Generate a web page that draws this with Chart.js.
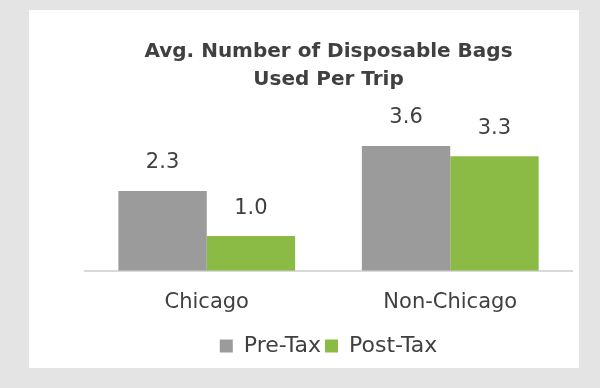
<!DOCTYPE html>
<html>
<head>
<meta charset="utf-8">
<script src="https://cdn.jsdelivr.net/npm/chart.js@4"></script>
<style>
  html, body { margin: 0; padding: 0; background: #e4e4e4; }
  body { width: 600px; height: 388px; position: relative; overflow: hidden; }
  #panel { position: absolute; left: 29px; top: 10px; width: 550px; height: 358px; background: #fff; }
</style>
</head>
<body>
<div id="panel"><canvas id="chart" width="550" height="358"></canvas></div>
<script>
// --- Data ---
const categories = ['Chicago', 'Non-Chicago'];
const preTax = [2.3, 3.6];
const postTax = [1.0, 3.3];
const seriesNames = ['Pre-Tax', 'Post-Tax'];

const textColor = '#404040';
const fontFamily = '"DejaVu Sans", sans-serif';

// value labels above each bar
const valueLabels = {
    id: 'valueLabels',
    afterDatasetsDraw(chart) {
        const ctx = chart.ctx;
        ctx.save();
        ctx.font = '21px ' + fontFamily;
        ctx.fillStyle = textColor;
        ctx.textAlign = 'center';
        ctx.textBaseline = 'middle';
        chart.data.datasets.forEach((ds, i) => {
            chart.getDatasetMeta(i).data.forEach((bar, j) => {
                ctx.fillText(ds.data[j].toFixed(1), bar.x, bar.y - 28);
            });
        });
        ctx.restore();
    }
};

new Chart(document.getElementById('chart'), {
    type: 'bar',
    data: {
        labels: categories,
        datasets: [
            { label: seriesNames[0], data: preTax, backgroundColor: '#9b9b9b' },
            { label: seriesNames[1], data: postTax, backgroundColor: '#8bba45' }
        ]
    },
    options: {
        responsive: false,
        animation: false,
        devicePixelRatio: 1,
        layout: { padding: { left: 56, right: 7, top: 28, bottom: 1 } },
        datasets: { bar: { barPercentage: 1, categoryPercentage: 0.726 } },
        scales: {
            x: {
                grid: { display: false },
                border: { color: '#d9d9d9', width: 2 },
                ticks: { color: textColor, font: { size: 21, family: fontFamily }, padding: 11 },
                afterFit(scale) { scale.height += 5; }
            },
            y: { display: false, min: 0, max: 4 }
        },
        plugins: {
            title: {
                display: true,
                text: ['Avg. Number of Disposable Bags', 'Used Per Trip'],
                color: textColor,
                font: { size: 20, weight: 'bold', family: fontFamily, lineHeight: 1.4 },
                padding: { top: 0, bottom: 38 }
            },
            legend: {
                position: 'bottom',
                labels: {
                    color: textColor,
                    boxWidth: 13,
                    boxHeight: 13,
                    padding: 4,
                    font: { size: 22, family: fontFamily }
                }
            },
            tooltip: { enabled: false }
        }
    },
    plugins: [valueLabels]
});
</script>
</body>
</html>
